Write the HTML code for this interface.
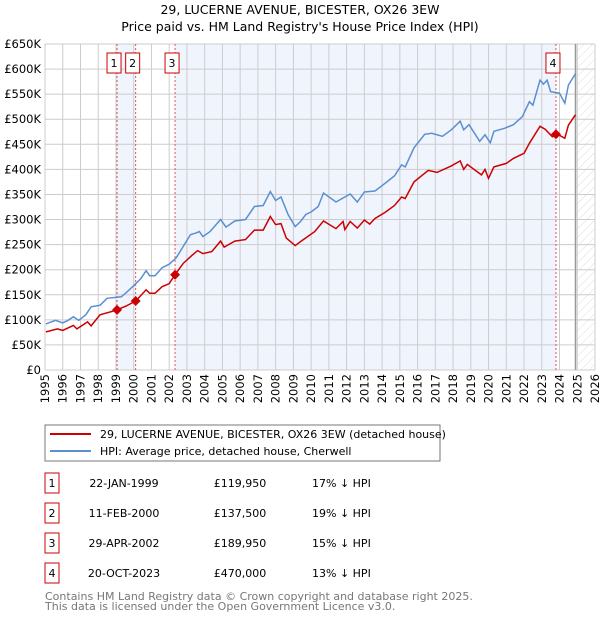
<!DOCTYPE html>
<html><head><meta charset="utf-8"><style>
body{margin:0;background:#fff;font-family:"DejaVu Sans","Liberation Sans",sans-serif;}
svg text{font-family:"DejaVu Sans","Liberation Sans",sans-serif;}
</style></head><body>
<svg id="c" width="600" height="620" xmlns="http://www.w3.org/2000/svg">
<defs><pattern id="hatch" width="6" height="6" patternUnits="userSpaceOnUse" patternTransform="rotate(45)"><line x1="0" y1="0" x2="0" y2="6" stroke="#ddd" stroke-width="1"/></pattern></defs>
<text x="300" y="14" text-anchor="middle" font-size="12.5">29, LUCERNE AVENUE, BICESTER, OX26 3EW</text>
<text x="300" y="31" text-anchor="middle" font-size="12.5">Price paid vs. HM Land Registry's House Price Index (HPI)</text>
<g id="plot"></g>
<rect x="45" y="425" width="395" height="36" fill="#fff" stroke="#777"/>
<line x1="50" y1="434" x2="91" y2="434" stroke="#cc0000" stroke-width="2"/>
<text x="100" y="438" font-size="11">29, LUCERNE AVENUE, BICESTER, OX26 3EW (detached house)</text>
<line x1="50" y1="451" x2="91" y2="451" stroke="#5b8fd0" stroke-width="2"/>
<text x="100" y="455" font-size="11">HPI: Average price, detached house, Cherwell</text>
<g id="table" font-size="11"></g>
<text x="45" y="600" font-size="11" fill="#777">Contains HM Land Registry data © Crown copyright and database right 2025.</text>
<text x="45" y="610" font-size="11" fill="#777">This data is licensed under the Open Government Licence v3.0.</text>
</svg>
<script>
const hpiYears=[1995.05,1995.6,1996,1996.3,1996.6,1996.9,1997.3,1997.6,1998.1,1998.5,1999.3,1999.6,2000,2000.4,2000.7,2000.9,2001.2,2001.6,2002,2002.4,2002.8,2003.2,2003.5,2003.7,2003.9,2004.3,2004.9,2005.2,2005.7,2006.3,2006.8,2007.3,2007.7,2008,2008.3,2008.7,2009.1,2009.4,2009.7,2010,2010.4,2010.7,2011.4,2012.2,2012.6,2013,2013.6,2014.2,2014.7,2015.1,2015.3,2015.8,2016.4,2016.8,2017.4,2017.9,2018.4,2018.6,2018.9,2019.5,2019.8,2020.1,2020.3,2020.9,2021.4,2021.9,2022.3,2022.5,2022.9,2023.1,2023.3,2023.5,2024,2024.3,2024.5,2024.9];
const hpiValues=[92,99,94,99,106,99,110,126,129,143,146,155,168,182,198,188,188,204,211,224,247,270,273,276,266,276,300,285,297,300,326,328,356,338,345,310,286,296,310,315,326,353,335,351,335,355,357,373,387,409,405,443,470,472,466,479,496,479,489,456,469,453,476,482,489,505,535,528,578,570,578,555,552,532,568,591];
const ppYears=[1995.05,1995.7,1996,1996.6,1996.8,1997.4,1997.6,1998.1,1998.9,1999.06,1999.6,2000.11,2000.7,2000.9,2001.2,2001.6,2002,2002.33,2002.8,2003.3,2003.6,2003.9,2004.4,2004.9,2005.1,2005.7,2006.3,2006.8,2007.3,2007.7,2008,2008.3,2008.6,2009.1,2009.4,2010.2,2010.7,2011.4,2011.8,2011.9,2012.2,2012.6,2013,2013.3,2013.6,2014.2,2014.7,2015.1,2015.3,2015.8,2016.6,2017.1,2017.9,2018.4,2018.6,2018.8,2019.6,2019.8,2020,2020.3,2021,2021.4,2022,2022.3,2022.9,2023.2,2023.6,2023.8,2024,2024.3,2024.5,2024.9];
const ppValues=[76,82,79,89,82,96,88,110,118,119.95,128,137.5,160,153,153,166,172,189.95,213,229,238,232,236,257,245,257,260,279,279,306,290,292,263,248,256,276,297,282,296,280,296,283,299,291,302,315,328,345,342,375,398,394,407,417,400,410,389,400,382,405,412,422,432,452,486,480,465,470,468,462,488,509];
const saleYears=[1999.06,2000.11,2002.33,2023.8];
const saleValues=[119.95,137.5,189.95,470];
const saleLabels=["1","2","3","4"];
const saleDates=["22-JAN-1999","11-FEB-2000","29-APR-2002","20-OCT-2023"];
const salePrices=["£119,950","£137,500","£189,950","£470,000"];
const saleDiffs=["17% ↓ HPI","19% ↓ HPI","15% ↓ HPI","13% ↓ HPI"];
const yTicks=[0,50,100,150,200,250,300,350,400,450,500,550,600,650];
const yTickLabels=["£0","£50K","£100K","£150K","£200K","£250K","£300K","£350K","£400K","£450K","£500K","£550K","£600K","£650K"];
const xTicks=[1995,1996,1997,1998,1999,2000,2001,2002,2003,2004,2005,2006,2007,2008,2009,2010,2011,2012,2013,2014,2015,2016,2017,2018,2019,2020,2021,2022,2023,2024,2025,2026];
const dataEndYear=2024.9;

const NS="http://www.w3.org/2000/svg";
const L=45,R=595,T=44,B=370;
const X=y=>L+(y-1995)/(2026-1995)*(R-L);
const Y=v=>B-v/650*(B-T);
const plot=document.getElementById('plot');
function mk(tag,attrs,parent){const e=document.createElementNS(NS,tag);for(const k in attrs)e.setAttribute(k,attrs[k]);(parent||plot).appendChild(e);return e;}

let e;
e=mk('rect',{x:L,y:T,width:R-L,height:B-T,fill:'#fff'});


e=mk('rect',{x:X(saleYears[0]),y:T,width:X(saleYears[1])-X(saleYears[0]),height:B-T,fill:'#f0f4fd'});


e=mk('rect',{x:X(saleYears[2]),y:T,width:X(saleYears[3])-X(saleYears[2]),height:B-T,fill:'#f0f4fd'});


e=mk('rect',{x:X(dataEndYear),y:T,width:R-X(dataEndYear),height:B-T,fill:'url(#hatch)'});


xTicks.forEach(t=>{
  const g=mk('line',{x1:X(t),x2:X(t),y1:T,y2:B,stroke:'#ccc','stroke-width':1});
  
  
  const tx=mk('text',{x:0,y:0,'font-size':11.5,'text-anchor':'end',transform:`translate(${X(t)+4},${B+4}) rotate(-90)`});
  tx.textContent=t;
  
  
});
yTicks.forEach((t,i)=>{
  const g=mk('line',{x1:L,x2:R,y1:Y(t),y2:Y(t),stroke:'#ccc','stroke-width':1});
  
  
  const tx=mk('text',{x:L-4,y:Y(t)+4,'font-size':11.5,'text-anchor':'end'});
  tx.textContent=yTickLabels[i];
  
  
});
e=mk('line',{x1:X(dataEndYear),x2:X(dataEndYear),y1:T,y2:B,stroke:'#999','stroke-width':1.5});


saleYears.forEach((s,i)=>{
  const l=mk('line',{x1:X(s),x2:X(s),y1:T,y2:B,stroke:'#e05555','stroke-width':1,'stroke-dasharray':'2,2'});
  
  
});
const hp=mk('path',{d:'M'+hpiYears.map((y,i)=>X(y).toFixed(1)+','+Y(hpiValues[i]).toFixed(1)).join('L'),fill:'none',stroke:'#5b8fd0','stroke-width':1.5});


const pp=mk('path',{d:'M'+ppYears.map((y,i)=>X(y).toFixed(1)+','+Y(ppValues[i]).toFixed(1)).join('L'),fill:'none',stroke:'#cc0000','stroke-width':1.5});


saleYears.forEach((s,i)=>{
  const x=X(s),y=Y(saleValues[i]);
  const d=mk('path',{d:`M${x},${y-5}L${x+5},${y}L${x},${y+5}L${x-5},${y}Z`,fill:'#cc0000'});
  
  
  const bx=X(s)-10;
  const r=mk('rect',{x:bx,y:53,width:14,height:20,fill:'#fff',stroke:'#cc0000'});
  
  
  const t=mk('text',{x:bx+7,y:67,'font-size':11,'text-anchor':'middle'});
  t.textContent=saleLabels[i];
  
  
});
const tb=document.getElementById('table');
saleLabels.forEach((lb,i)=>{
  const cy=483+i*30;
  const r=mk('rect',{x:45,y:cy-10,width:14,height:20,fill:'#fff',stroke:'#cc0000'},tb);
  
  
  const vals=[[52,lb,'middle'],[124,saleDates[i],'middle'],[240,salePrices[i],'middle'],[312,saleDiffs[i],'start']];
  vals.forEach(v=>{
    const t=mk('text',{x:v[0],y:cy+4,'font-size':11,'text-anchor':v[2]},tb);
    t.textContent=v[1];
    
    
  });
});
</script>
</body></html>
